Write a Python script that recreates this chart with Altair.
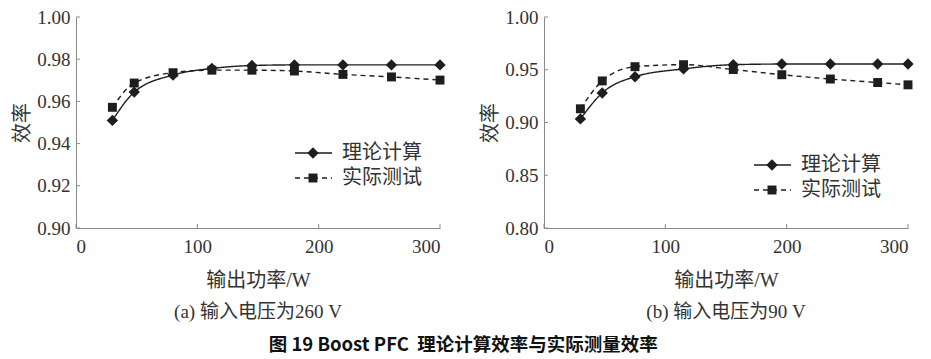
import altair as alt
import pandas as pd

# ---------------- data ----------------
series_names = ["理论计算", "实际测试"]

left_power = [30, 48, 80, 112, 145, 180, 220, 260, 300]
left_theory = [0.951, 0.9644, 0.9725, 0.9756, 0.977, 0.9773, 0.9773, 0.9773, 0.9773]
left_measured = [0.9572, 0.9687, 0.9736, 0.9748, 0.9748, 0.9744, 0.9728, 0.9716, 0.9701]

right_power = [30, 48, 75, 115, 156, 196, 236, 275, 300]
right_theory = [0.9034, 0.928, 0.9434, 0.9508, 0.9548, 0.9554, 0.9554, 0.9554, 0.9554]
right_measured = [0.913, 0.9394, 0.9529, 0.9548, 0.9502, 0.9453, 0.9412, 0.9379, 0.9357]

x_ticks = [0, 100, 200, 300]
left_y_ticks = [0.90, 0.92, 0.94, 0.96, 0.98, 1.00]
right_y_ticks = [0.80, 0.85, 0.90, 0.95, 1.00]

x_title = "输出功率/W"
y_title = "效率"
left_caption = "(a) 输入电压为260 V"
right_caption = "(b) 输入电压为90 V"
main_title = "图 19 Boost PFC\u00a0 理论计算效率与实际测量效率"

# ---------------- style ----------------
W, H = 364, 211
FONT = "Liberation Serif, Noto Sans CJK SC"
AXIS_GREY = "#8a8a8a"
TEXT = "#333333"
INK = "#1e1e1e"
DASH = [5, 4]
SHAPES = ["diamond", "square"]
SIZES = [130, 80]
DASHES = [[1, 0], DASH]


def make_df(power, theory, measured):
    rows = []
    for p, v in zip(power, theory):
        rows.append({"P": p, "eff": v, "series": series_names[0]})
    for p, v in zip(power, measured):
        rows.append({"P": p, "eff": v, "series": series_names[1]})
    return pd.DataFrame(rows)


def legend_layers(lx, ly):
    """Legend block inside the plot: sample line + marker + label per series."""
    out = []
    for i, name in enumerate(series_names):
        d = pd.DataFrame({"label": [name]})
        yy = ly + 25 * i
        seg = alt.Chart(d).mark_rule(color=INK, strokeWidth=1.4,
                                     strokeDash=DASHES[i]).encode(
            x=alt.value(lx), x2=alt.value(lx + 37), y=alt.value(yy))
        mk = alt.Chart(d).mark_point(filled=True, opacity=1, color=INK,
                                     shape=SHAPES[i], size=SIZES[i]).encode(
            x=alt.value(lx + 18), y=alt.value(yy))
        tx = alt.Chart(d).mark_text(align="left", baseline="middle", font=FONT,
                                    fontSize=20, color=TEXT).encode(
            x=alt.value(lx + 47), y=alt.value(yy), text="label:N")
        out += [seg, mk, tx]
    return out


def panel(power, theory, measured, y_ticks, caption, leg_x, leg_y):
    df = make_df(power, theory, measured)
    y_dom = [min(y_ticks), max(y_ticks)]
    x_enc = alt.X("P:Q", scale=alt.Scale(domain=[0, 300], nice=False),
                  axis=alt.Axis(values=x_ticks, title=x_title, format="d"))
    y_enc = alt.Y("eff:Q", scale=alt.Scale(domain=y_dom, nice=False, zero=False),
                  axis=alt.Axis(values=y_ticks, title=y_title, format=".2f"))
    base = alt.Chart(df)

    lines = base.mark_line(interpolate="monotone", strokeWidth=1.4, color=INK).encode(
        x=x_enc, y=y_enc,
        strokeDash=alt.StrokeDash("series:N",
                                  scale=alt.Scale(domain=series_names, range=DASHES),
                                  legend=None),
        detail="series:N",
    )
    pts = []
    for i, name in enumerate(series_names):
        pts.append(base.transform_filter(alt.datum.series == name).mark_point(
            filled=True, opacity=1, color=INK, shape=SHAPES[i], size=SIZES[i]).encode(
            x="P:Q", y="eff:Q"))
    xt = alt.Chart(pd.DataFrame({"t": x_ticks})).mark_rule(
        color=AXIS_GREY, strokeWidth=1).encode(
        x="t:Q", y=alt.value(H), y2=alt.value(H - 4))
    yt = alt.Chart(pd.DataFrame({"t": y_ticks})).mark_rule(
        color=AXIS_GREY, strokeWidth=1).encode(
        y="t:Q", x=alt.value(0), x2=alt.value(4))

    return alt.layer(xt, yt, lines, *pts, *legend_layers(leg_x, leg_y)).properties(
        width=W, height=H,
        title=alt.TitleParams(caption, orient="bottom", font=FONT, fontSize=19,
                              fontWeight="normal", color=TEXT, offset=13))


left = panel(left_power, left_theory, left_measured, left_y_ticks, left_caption, 219, 136)
right = panel(right_power, right_theory, right_measured, right_y_ticks, right_caption, 210, 148)

chart = alt.hconcat(left, right, spacing=34).properties(
    title=alt.TitleParams(main_title, orient="bottom", font="Noto Sans CJK SC",
                          fontSize=18.5, fontWeight="bold", color="#111111",
                          anchor="middle", offset=14),
    padding={"left": 4, "top": 0, "right": 2, "bottom": 2},
).configure_view(stroke=None).configure_axis(
    domainColor=AXIS_GREY, domainWidth=1, tickSize=0, grid=False,
    labelFont=FONT, labelFontSize=19, labelColor=TEXT, labelPadding=9,
    titleFont=FONT, titleFontSize=20, titleColor=TEXT, titleFontWeight="normal",
).configure_axisX(titlePadding=14).configure_axisY(titlePadding=4, labelPadding=6)

chart.save("out.html", embed_options={"renderer": "svg", "actions": False})
